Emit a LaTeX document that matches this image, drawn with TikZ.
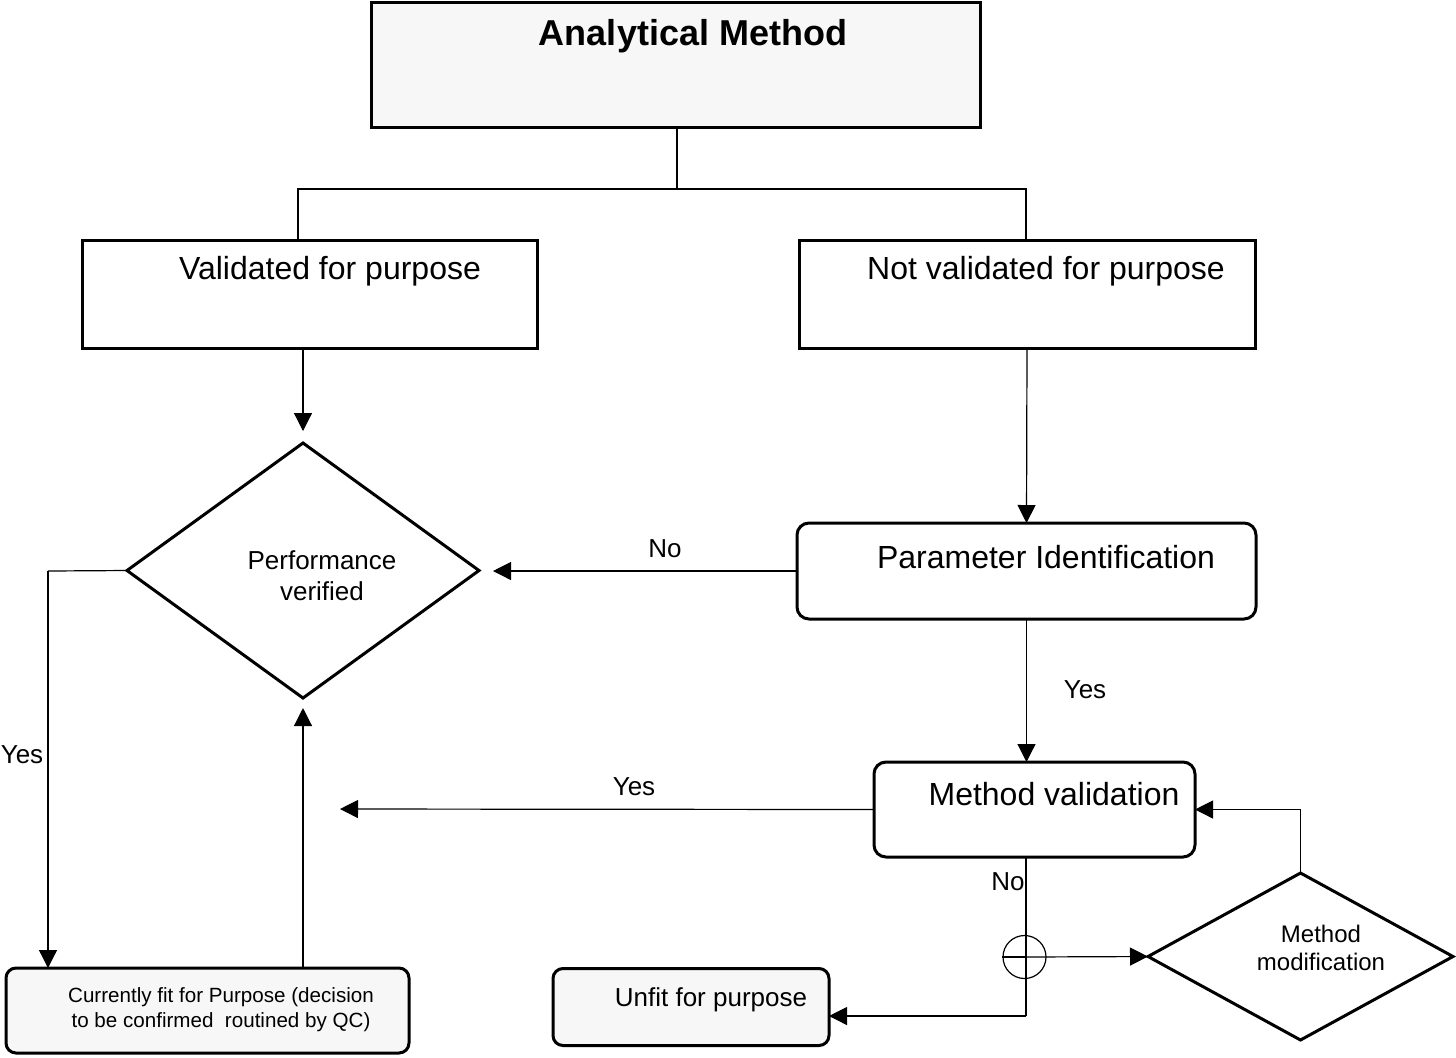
\documentclass[tikz,border=0pt]{standalone}
\usepackage{fontspec}
\setmainfont{Liberation Sans}
\usetikzlibrary{shapes.geometric,arrows.meta}
\definecolor{boxgray}{HTML}{F7F7F7}
\begin{document}
\begin{tikzpicture}[x=0.5pt,y=-0.5pt,
  boxb/.style={draw,line width=1.5pt,inner sep=0pt,outer sep=0pt},
  rbox/.style={boxb,rounded corners=6pt},
  dia/.style={draw,diamond,line width=1.5pt,inner sep=0pt,outer sep=0pt},
  conn/.style={line width=0.6pt},
  arr/.style={conn,-{Triangle[length=9pt,width=9pt]}},
  big/.style={font=\fontsize{16}{19}\selectfont},
  mid/.style={font=\fontsize{13}{15.5}\selectfont,align=center},
  lab/.style={font=\fontsize{13}{15}\selectfont}]
\useasboundingbox (0,0) rectangle (1456,1057);
% boxes
\node[boxb,fill=boxgray,minimum width=304.5pt,minimum height=62.5pt] (am) at (675.5,64.5) {};
\node[boxb,fill=white,minimum width=227.5pt,minimum height=54pt] (vp) at (309.5,294) {};
\node[boxb,fill=white,minimum width=228pt,minimum height=54pt] (nvp) at (1027,294) {};
\node[dia,minimum width=176pt,minimum height=127.5pt] (pv) at (303,570.5) {};
\node[rbox,minimum width=229.5pt,minimum height=48pt] (pid) at (1026.5,571) {};
\node[rbox,minimum width=160.5pt,minimum height=47.5pt] (mv) at (1034.5,809.5) {};
\node[dia,minimum width=152.5pt,minimum height=83.5pt] (mm) at (1300.5,956.5) {};
\node[rbox,fill=boxgray,rounded corners=5pt,minimum width=201.5pt,minimum height=42.5pt] (cf) at (207.5,1010.5) {};
\node[rbox,fill=boxgray,rounded corners=5pt,minimum width=138pt,minimum height=38.5pt] (uf) at (691,1007) {};
\node[draw,circle,line width=0.6pt,minimum size=21.5pt,inner sep=0pt] (jn) at (1024.5,957) {};
% texts
\node[font=\bfseries\fontsize{18}{21}\selectfont] (tam) at (693,36) {Analytical Method};
\node[big] (tvp) at (330,271) {Validated for purpose};
\node[big] (tnvp) at (1046,271) {Not validated for purpose};
\node[big] (tpid) at (1046,557) {Parameter Identification};
\node[big] (tmv) at (1054,794) {Method validation};
\node[mid] (tpv) at (322,576) {Performance\\verified};
\node[font=\fontsize{12}{14}\selectfont,align=center] (tmm) at (1321,948) {Method\\modification};
\node[font=\fontsize{10.3}{12.5}\selectfont,align=center] (tcf) at (221,1010) {Currently fit for Purpose (decision\\ to be confirmed\ \ routined by QC)};
\node[lab] (tuf) at (711,1000) {Unfit for purpose};
% coordinates
\coordinate (split) at (677,189);
\coordinate (tl) at (298,189);
\coordinate (tr) at (1026,189);
\coordinate (lx) at (48,571);
\coordinate (cn) at (1026,1016);
\coordinate (yend) at (340,809);
% connectors
\draw[conn] (split |- am.south) -- (split);
\draw[conn] (tl |- vp.north) -- (tl) -- (tr) -- (tr |- nvp.north);
\draw[arr,shorten >=6pt] (vp.south -| pv.north) -- (pv.north);
\draw[arr] (nvp.south) -- (pid.north);
\draw[arr,shorten >=7pt] (pid.west) -- (pid.west -| pv.east);
\draw[arr] (pid.south) -- (pid.south |- mv.north);
\draw[arr] (mv.west) -- (yend);
\draw[conn] (mv.south -| cn) -- (cn);
\draw[arr] (cn) -- (cn -| uf.east);
\draw[conn] (jn.west) -- (jn.west -| cn);
\draw[arr] (jn.west -| cn) -- (mm.west);
\draw[arr] (mm.north) |- (mv.east);
\draw[conn] (pv.west) -- (lx);
\draw[arr] (lx) -- (lx |- cf.north);
\draw[arr,shorten >=5pt] (pv.south |- cf.north) -- (pv.south);
% labels
\node[lab] (lno1) at (665,549) {No};
\node[lab] (lyes1) at (1085,690) {Yes};
\node[lab] (lyes2) at (634,787) {Yes};
\node[lab] (lno2) at (1008,882) {No};
\node[lab] (lyes3) at (22,755) {Yes};
\end{tikzpicture}
\end{document}
